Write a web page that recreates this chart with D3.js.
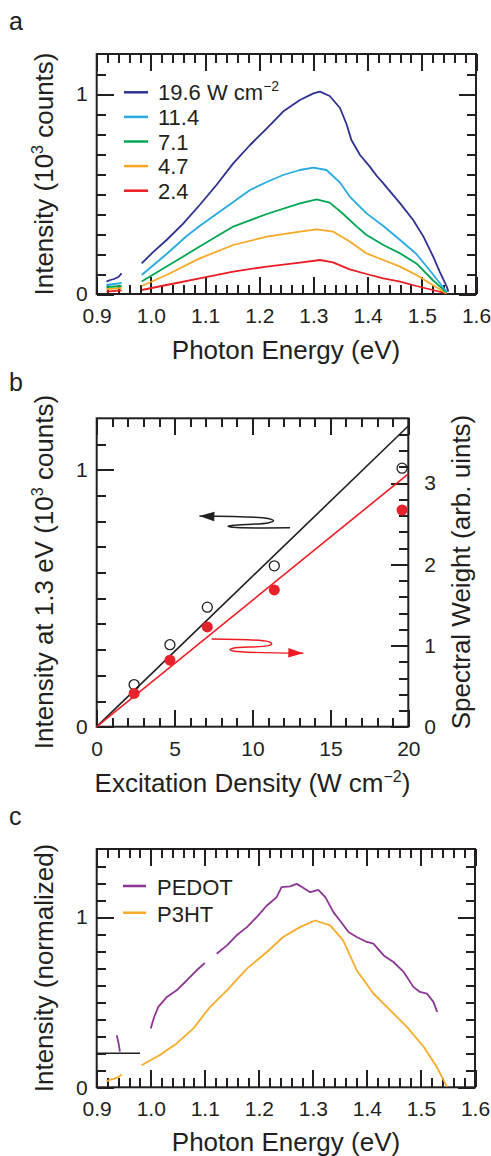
<!DOCTYPE html>
<html>
<head>
<meta charset="utf-8">
<script src="https://cdn.jsdelivr.net/npm/d3@7/dist/d3.min.js"></script>
<style>
body { margin: 0; background: #fff; }
text { font-family: "Liberation Sans", Arial, sans-serif; fill: #231f20; }
</style>
</head>
<body>
<svg id="fig" width="491" height="1156"></svg>
<script>
// ---- data ----
// excitation densities (W cm^-2), legend order
var densities = [19.6, 11.4, 7.1, 4.7, 2.4];
var specColors = ["#2e3192", "#27aae1", "#00a651", "#f9a825", "#ed1c24"];

// panel a spectra: [photon energy eV, intensity 10^3 counts], null = gap
var spec196 = [[0.918,0.062],[0.925,0.07],[0.932,0.075],[0.94,0.085],[0.946,0.103],null,
  [0.983,0.153],[1.005,0.212],[1.029,0.27],[1.06,0.353],[1.09,0.445],[1.121,0.545],[1.152,0.653],
  [1.183,0.745],[1.214,0.828],[1.244,0.912],[1.275,0.97],[1.30,1.003],[1.312,1.012],[1.33,0.99],
  [1.349,0.93],[1.361,0.85],[1.37,0.77],[1.386,0.695],[1.404,0.637],[1.417,0.59],[1.429,0.553],
  [1.46,0.453],[1.484,0.37],[1.503,0.287],[1.521,0.187],[1.533,0.112],[1.546,0.037],[1.549,0.012]];
var spec114 = [[0.918,0.045],[0.932,0.05],[0.946,0.055],null,
  [0.983,0.095],[1.005,0.145],[1.029,0.20],[1.066,0.29],[1.09,0.34],[1.121,0.40],[1.152,0.46],
  [1.183,0.52],[1.214,0.56],[1.244,0.595],[1.275,0.62],[1.30,0.632],[1.324,0.62],[1.349,0.557],
  [1.367,0.487],[1.398,0.403],[1.429,0.34],[1.46,0.27],[1.49,0.20],[1.52,0.10],[1.546,0.01]];
var spec71 = [[0.918,0.035],[0.946,0.04],null,
  [0.983,0.062],[1.029,0.137],[1.09,0.237],[1.152,0.337],[1.214,0.40],[1.275,0.453],[1.306,0.473],
  [1.33,0.457],[1.355,0.40],[1.38,0.337],[1.398,0.295],[1.429,0.245],[1.46,0.203],[1.49,0.153],
  [1.52,0.07],[1.546,0.007]];
var spec47 = [[0.918,0.025],[0.946,0.03],null,
  [0.983,0.04],[1.029,0.095],[1.09,0.178],[1.152,0.245],[1.214,0.287],[1.275,0.312],[1.306,0.323],
  [1.336,0.312],[1.367,0.262],[1.398,0.203],[1.429,0.17],[1.46,0.137],[1.49,0.095],[1.52,0.045],
  [1.546,0.003]];
var spec24 = [[0.918,0.012],[0.946,0.018],null,
  [0.983,0.02],[1.029,0.045],[1.09,0.078],[1.152,0.112],[1.214,0.137],[1.275,0.157],[1.312,0.17],
  [1.336,0.158],[1.367,0.123],[1.398,0.10],[1.429,0.078],[1.46,0.062],[1.49,0.04],[1.52,0.02],
  [1.546,0.003]];
var spectra = [spec196, spec114, spec71, spec47, spec24];

// panel b
var excitation = [2.4, 4.7, 7.1, 11.4, 19.6];
var peakIntensity = [0.164, 0.319, 0.465, 0.626, 1.006];   // left axis
var spectralWeight = [0.41, 0.82, 1.23, 1.685, 2.67];      // right axis
var intensityFit = [[0, 0], [20, 1.17]];
var weightFit = [[0, 0], [20, 3.115]];
// annotation arrows (data units): black -> left axis, red -> right axis
var leftArrow = [[12.41,0.774],[8.75,0.776],[8.43,0.780],[8.75,0.784],[11.0,0.793],[11.35,0.801],[11.0,0.810],[6.59,0.820]];
var rightArrow = [[7.38,1.081],[11.01,1.048],[11.23,1.023],[11.01,0.999],[8.77,0.967],[8.56,0.949],[8.77,0.933],[13.26,0.905]];

// panel c: normalized spectra
var pedot = [[0.937,0.306],[0.94,0.267],[0.943,0.209],null,
  [1.0,0.346],[1.006,0.41],[1.014,0.473],[1.03,0.531],[1.048,0.57],[1.067,0.629],[1.085,0.6875],[1.10,0.73],null,
  [1.122,0.785],[1.141,0.834],[1.159,0.893],[1.178,0.941],[1.196,1.0],[1.215,1.068],[1.233,1.117],
  [1.242,1.176],[1.258,1.18],[1.27,1.195],[1.282,1.172],[1.295,1.146],[1.31,1.16],[1.323,1.117],
  [1.338,1.029],[1.35,0.98],[1.366,0.912],[1.381,0.883],[1.40,0.854],[1.412,0.844],[1.431,0.775],
  [1.449,0.736],[1.468,0.678],[1.486,0.59],[1.498,0.56],[1.511,0.551],[1.523,0.502],[1.53,0.443]];
var p3ht = [[0.918,0.035],[0.925,0.045],[0.932,0.05],[0.94,0.06],[0.946,0.075],null,
  [0.983,0.13],[1.017,0.19],[1.048,0.258],[1.079,0.346],[1.11,0.473],[1.141,0.57],[1.178,0.697],
  [1.215,0.795],[1.245,0.883],[1.276,0.941],[1.304,0.98],[1.332,0.951],[1.356,0.863],[1.381,0.688],
  [1.412,0.551],[1.443,0.453],[1.474,0.355],[1.505,0.238],[1.529,0.121],[1.548,0.004]];
var cLabels = ["PEDOT", "P3HT"];
var cColors = ["#8e3596", "#f9ab2c"];
var cBaseline = [[0.9, 0.2], [0.98, 0.2]];

var ink = "#231f20";
var svg = d3.select("#fig");

function axisPart(g, axis, tx, ty, values, size, fmt, pad) {
  var a = g.append("g").attr("transform", "translate(" + tx + "," + ty + ")")
    .call(axis.tickValues(values).tickSize(size).tickPadding(pad || 0).tickFormat(fmt || ""));
  a.select(".domain").remove();
  a.attr("font-family", null).attr("font-size", 21);
  a.selectAll("line").attr("stroke", ink).attr("stroke-width", 2)
    .attr("shape-rendering", "crispEdges");
  return a;
}

// boxed frame with inward ticks on all sides
function frame(x, y, o) {
  var g = svg.append("g");
  var L = x.range()[0], R = x.range()[1], B = y.range()[0], T = y.range()[1];
  axisPart(g, d3.axisBottom(x), 0, B, o.xMinor, -9);
  axisPart(g, d3.axisBottom(x), 0, B, o.xMajor, -17, o.xFmt, 14);
  axisPart(g, d3.axisTop(x), 0, T, o.xMinor, -9);
  axisPart(g, d3.axisTop(x), 0, T, o.xMajor, -17);
  axisPart(g, d3.axisLeft(y), L, 0, o.yMinor, -9);
  axisPart(g, d3.axisLeft(y), L, 0, o.yMajor, -17, d3.format("d"), 9);
  var yr = o.yRight || y;
  axisPart(g, d3.axisRight(yr), R, 0, o.rMinor || o.yMinor, -9);
  axisPart(g, d3.axisRight(yr), R, 0, o.rMajor || o.yMajor, -17, o.rFmt, 16);
  g.append("rect").attr("x", L).attr("y", T).attr("width", R - L).attr("height", B - T)
    .attr("fill", "none").attr("stroke", ink).attr("stroke-width", 2);
}

function yTitle(x, y, parts) {
  var t = svg.append("text").attr("transform", "translate(" + x + "," + y + ") rotate(-90)")
    .attr("text-anchor", "middle").attr("font-size", 26);
  addParts(t, parts);
}
function xTitle(x, y, parts) {
  var t = svg.append("text").attr("x", x).attr("y", y).attr("text-anchor", "middle").attr("font-size", 26);
  addParts(t, parts);
}
// parts: strings, or {sup: "..."}
function addParts(t, parts) {
  var up = false;
  parts.forEach(function (p) {
    if (typeof p === "string") {
      t.append("tspan").attr("dy", up ? 10 : 0).text(p);
      up = false;
    } else {
      t.append("tspan").attr("dy", -10).attr("font-size", 16).text(p.sup);
      up = true;
    }
  });
}

function letter(s, x, y) {
  svg.append("text").attr("x", x).attr("y", y).attr("font-size", 25).text(s);
}

// filled arrow head at the last point, pointing along the last segment
function arrowHead(pts, color) {
  var p = pts[pts.length - 1], q = pts[pts.length - 2];
  var dx = p[0] - q[0], dy = p[1] - q[1], n = Math.sqrt(dx * dx + dy * dy);
  var ux = dx / n, uy = dy / n, len = 15, hw = 4.8;
  var bx = p[0] - ux * len, by = p[1] - uy * len;
  svg.append("path")
    .attr("d", "M" + p[0] + "," + p[1] + "L" + (bx - uy * hw) + "," + (by + ux * hw) +
      "L" + (bx + uy * hw) + "," + (by - ux * hw) + "Z")
    .attr("fill", color);
}

var eMinor = d3.range(45, 81).map(function (i) { return i / 50; });
var eMajor = d3.range(9, 17).map(function (i) { return i / 10; });

// ================= panel a =================
var xa = d3.scaleLinear().domain([0.9, 1.6]).range([96.7, 476]);
var ya = d3.scaleLinear().domain([0, 1.2]).range([294, 54]);
var lineA = d3.line().defined(function (d) { return d !== null; })
  .x(function (d) { return xa(d[0]); }).y(function (d) { return ya(d[1]); });

frame(xa, ya, {
  xMinor: eMinor, xMajor: eMajor, xFmt: d3.format(".1f"),
  yMinor: d3.range(1, 12).map(function (i) { return i / 10; }), yMajor: [0, 1]
});

spectra.slice().reverse().forEach(function (s, i) {
  var k = spectra.length - 1 - i;
  svg.append("path").attr("d", lineA(s)).attr("fill", "none")
    .attr("stroke", specColors[k]).attr("stroke-width", 1.8).attr("stroke-linejoin", "round");
});

densities.forEach(function (d, i) {
  var ly = 92.3 + i * 24.6;
  svg.append("line").attr("x1", 124).attr("x2", 148).attr("y1", ly).attr("y2", ly)
    .attr("stroke", specColors[i]).attr("stroke-width", 2.5);
  var t = svg.append("text").attr("x", 158).attr("y", ly + 8).attr("font-size", 22);
  if (i === 0) {
    t.append("tspan").text(d + " W cm");
    t.append("tspan").attr("dy", -9).attr("font-size", 14).text("\u22122");
  } else t.text(d);
});

letter("a", 9, 30);
xTitle(286, 359, ["Photon Energy (eV)"]);
yTitle(53, 174, ["Intensity (10", { sup: "3" }, " counts)"]);

// ================= panel b =================
var xb = d3.scaleLinear().domain([0, 20]).range([96.7, 408.3]);
var yb = d3.scaleLinear().domain([0, 1.2]).range([726.7, 418.3]);
var yw = d3.scaleLinear().domain([0, 3.8]).range([726.7, 418.3]);

frame(xb, yb, {
  xMinor: d3.range(0, 21), xMajor: [0, 5, 10, 15, 20], xFmt: d3.format("d"),
  yMinor: d3.range(1, 12).map(function (i) { return i / 10; }), yMajor: [0, 1],
  yRight: yw, rMinor: d3.range(1, 19).map(function (i) { return i / 5; }),
  rMajor: [0, 1, 2, 3], rFmt: d3.format("d")
});

var lineL = d3.line().x(function (d) { return xb(d[0]); }).y(function (d) { return yb(d[1]); });
var lineR = d3.line().x(function (d) { return xb(d[0]); }).y(function (d) { return yw(d[1]); });

svg.append("path").attr("d", lineL(intensityFit))
  .attr("stroke", ink).attr("stroke-width", 1.6).attr("fill", "none");
svg.append("path").attr("d", lineR(weightFit))
  .attr("stroke", "#ed1c24").attr("stroke-width", 1.6).attr("fill", "none");

svg.selectAll(null).data(excitation).enter().append("circle")
  .attr("cx", function (d) { return xb(d); })
  .attr("cy", function (d, i) { return yb(peakIntensity[i]); })
  .attr("r", 5).attr("fill", "none").attr("stroke", ink).attr("stroke-width", 1.3);
svg.selectAll(null).data(excitation).enter().append("circle")
  .attr("cx", function (d) { return xb(d); })
  .attr("cy", function (d, i) { return yw(spectralWeight[i]); })
  .attr("r", 5.5).attr("fill", "#e8222a");

// annotation arrows
var arrowLine = d3.line().curve(d3.curveCatmullRom.alpha(0.5));
var ptsL = leftArrow.map(function (d) { return [xb(d[0]), yb(d[1])]; });
var ptsR = rightArrow.map(function (d) { return [xb(d[0]), yw(d[1])]; });
svg.append("path").attr("d", arrowLine(ptsL)).attr("fill", "none")
  .attr("stroke", ink).attr("stroke-width", 1.5);
arrowHead(ptsL, ink);
svg.append("path").attr("d", arrowLine(ptsR)).attr("fill", "none")
  .attr("stroke", "#ed1c24").attr("stroke-width", 1.5);
arrowHead(ptsR, "#ed1c24");

letter("b", 9, 391);
xTitle(252.5, 792, ["Excitation Density (W cm", { sup: "\u22122" }, ")"]);
yTitle(53, 572, ["Intensity at 1.3 eV (10", { sup: "3" }, " counts)"]);
yTitle(470, 572, ["Spectral Weight (arb. uints)"]);

// ================= panel c =================
var xc = d3.scaleLinear().domain([0.9, 1.6]).range([96.7, 475]);
var yc = d3.scaleLinear().domain([0, 1.4]).range([1087.3, 849]);
var lineC = d3.line().defined(function (d) { return d !== null; })
  .x(function (d) { return xc(d[0]); }).y(function (d) { return yc(d[1]); });

frame(xc, yc, {
  xMinor: eMinor, xMajor: eMajor, xFmt: d3.format(".1f"),
  yMinor: d3.range(1, 14).map(function (i) { return i / 10; }), yMajor: [0, 1]
});

[p3ht, pedot].forEach(function (s, i) {
  svg.append("path").attr("d", lineC(s)).attr("fill", "none")
    .attr("stroke", cColors[1 - i]).attr("stroke-width", 1.8).attr("stroke-linejoin", "round");
});
svg.append("path").attr("d", lineC(cBaseline)).attr("fill", "none")
  .attr("stroke", ink).attr("stroke-width", 1.6);

cLabels.forEach(function (l, i) {
  var ly = 886 + i * 26.7;
  svg.append("line").attr("x1", 123).attr("x2", 146).attr("y1", ly).attr("y2", ly)
    .attr("stroke", cColors[i]).attr("stroke-width", 2.5);
  svg.append("text").attr("x", 157).attr("y", ly + 9).attr("font-size", 22).text(l);
});

letter("c", 9, 825);
xTitle(286, 1151, ["Photon Energy (eV)"]);
yTitle(53, 968, ["Intensity (normalized)"]);
</script>
</body>
</html>
